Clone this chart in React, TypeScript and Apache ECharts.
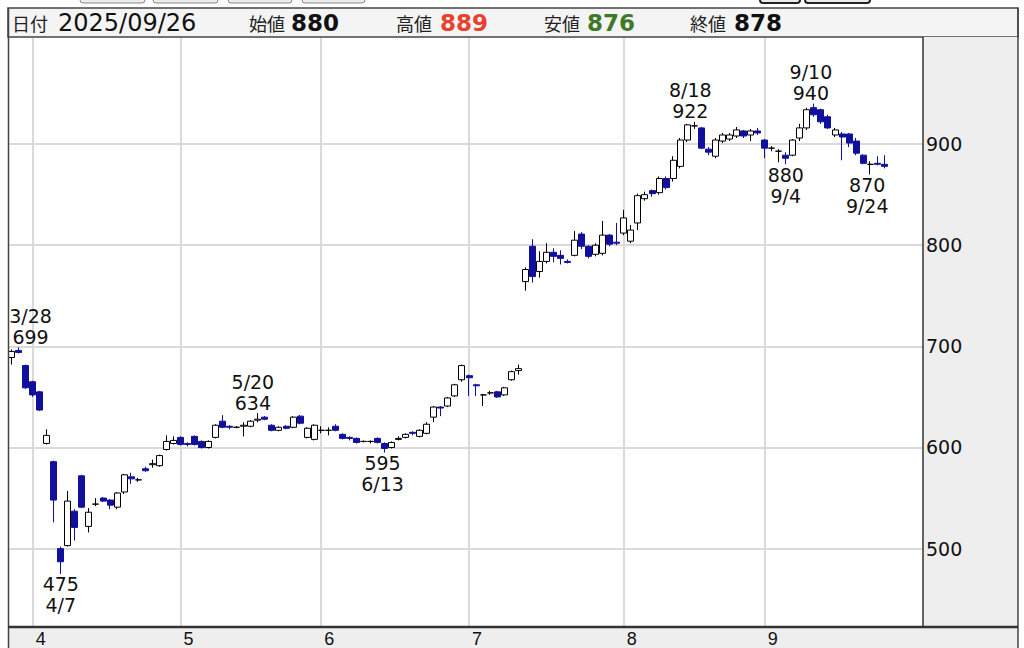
import React, { useEffect, useRef } from "react";
import * as echarts from "echarts";

type Ohlc = [number, number, number, number]; // open, high, low, close

const YEAR = 2025;
const marDays = [27, 28, 31];
const aprDays = [1, 2, 3, 4, 7, 8, 9, 10, 11, 14, 15, 16, 17, 18, 21, 22, 23, 24, 25, 28, 30];
const mayDays = [1, 2, 7, 8, 9, 12, 13, 14, 15, 16, 19, 20, 21, 22, 23, 26, 27, 28, 29, 30];
const junDays = [2, 3, 4, 5, 6, 9, 10, 11, 12, 13, 16, 17, 18, 19, 20, 23, 24, 25, 26, 27, 30];
const julDays = [1, 2, 3, 4, 7, 8, 9, 10, 11, 14, 15, 16, 17, 18, 22, 23, 24, 25, 28, 29, 30, 31];
const augDays = [1, 4, 5, 6, 7, 8, 12, 13, 14, 15, 18, 19, 20, 21, 22, 25, 26, 27, 28, 29];
const sepDays = [1, 2, 3, 4, 5, 8, 9, 10, 11, 12, 16, 17, 18, 19, 22, 24, 25, 26];
const padDates = ["2025-09-29", "2025-09-30", "2025-10-01", "2025-10-02", "2025-10-03"];

const marOhlc: Ohlc[] = [
  [689, 697, 682, 695], [696, 699, 693, 694], [681, 682, 658, 659],
];
const aprOhlc: Ohlc[] = [
  [665, 666, 650, 652], [655, 656, 636, 637], [604, 618, 603, 612], [586, 587, 526, 548],
  [500, 502, 475, 487], [503, 557, 502, 547], [537, 539, 508, 521], [572, 573, 540, 541],
  [522, 540, 516, 536], [544, 550, 542, 544], [550, 551, 546, 547], [548, 549, 539, 543],
  [541, 556, 539, 555], [556, 574, 554, 573], [571, 575, 564, 569], [568, 570, 566, 568],
  [579, 581, 576, 577], [583, 588, 580, 584], [582, 593, 581, 592], [598, 612, 597, 606],
  [604, 611, 603, 607],
];
const mayOhlc: Ohlc[] = [
  [610, 611, 602, 603], [604, 605, 601, 603], [611, 612, 602, 603], [606, 607, 599, 600],
  [600, 607, 599, 606], [610, 623, 609, 622], [626, 632, 619, 620], [621, 622, 618, 620],
  [620, 621, 619, 620], [621, 625, 611, 622], [621, 627, 620, 626], [627, 634, 625, 628],
  [630, 631, 627, 628], [622, 623, 616, 617], [617, 621, 616, 620], [621, 622, 618, 619],
  [620, 631, 619, 630], [631, 632, 623, 624], [610, 620, 609, 619], [608, 623, 607, 622],
];
const junOhlc: Ohlc[] = [
  [617, 621, 614, 617], [617, 620, 612, 617], [621, 623, 616, 617], [613, 614, 608, 609],
  [610, 611, 607, 609], [609, 610, 604, 605], [606, 607, 605, 606], [606, 607, 604, 606],
  [609, 610, 604, 605], [604, 605, 595, 599], [600, 606, 599, 605], [608, 611, 607, 609],
  [610, 614, 609, 613], [615, 616, 612, 614], [611, 618, 610, 617], [614, 625, 613, 623],
  [630, 641, 625, 640], [640, 641, 631, 639], [641, 650, 640, 649], [651, 663, 650, 662],
  [667, 682, 665, 681],
];
const julOhlc: Ohlc[] = [
  [671, 672, 651, 669], [662, 663, 651, 661], [652, 653, 641, 652], [654, 656, 652, 654],
  [655, 656, 649, 650], [652, 660, 651, 659], [667, 676, 666, 675], [676, 682, 672, 678],
  [764, 778, 755, 776], [799, 806, 763, 769], [774, 794, 768, 784], [784, 802, 782, 793],
  [793, 797, 783, 789], [790, 795, 781, 787], [784, 786, 782, 783], [790, 814, 789, 805],
  [811, 813, 796, 799], [799, 800, 787, 789], [791, 802, 789, 800], [792, 824, 790, 810],
  [810, 811, 799, 801], [803, 822, 800, 802],
];
const augOhlc: Ohlc[] = [
  [812, 835, 810, 827], [804, 820, 802, 815], [822, 851, 815, 849], [846, 853, 844, 850],
  [854, 855, 848, 851], [852, 868, 850, 866], [866, 868, 855, 857], [866, 888, 863, 884],
  [878, 906, 876, 904], [904, 920, 902, 919], [918, 922, 915, 918], [916, 917, 895, 896],
  [895, 897, 889, 892], [888, 906, 886, 904], [903, 911, 901, 909], [905, 911, 903, 909],
  [908, 917, 906, 914], [913, 914, 906, 908], [909, 915, 903, 913], [913, 916, 909, 911],
];
const sepOhlc: Ohlc[] = [
  [904, 905, 886, 896], [896, 898, 893, 896], [893, 895, 882, 893], [889, 892, 880, 886],
  [889, 905, 888, 904], [906, 920, 903, 916], [916, 936, 914, 934], [936, 940, 927, 929],
  [934, 935, 920, 922], [927, 929, 915, 916], [909, 916, 907, 914], [910, 912, 884, 907],
  [910, 911, 897, 901], [903, 906, 889, 891], [889, 890, 880, 881], [880, 883, 870, 880],
  [881, 888, 879, 880], [880, 889, 876, 878],
];

const priceTicks = [500, 600, 700, 800, 900];

const annDates = ["2025-03-28", "2025-04-07", "2025-05-20", "2025-06-13", "2025-08-18", "2025-09-04", "2025-09-10", "2025-09-24"];
const annValues = [699, 475, 634, 595, 922, 880, 940, 870];
const annKinds = ["high", "low", "high", "low", "high", "low", "high", "low"];
const annOffsets = [12, 0, -5, -2, -4, 0, -3, -3];

const monthBlocks: [number, number[], Ohlc[]][] = [
  [3, marDays, marOhlc], [4, aprDays, aprOhlc], [5, mayDays, mayOhlc], [6, junDays, junOhlc],
  [7, julDays, julOhlc], [8, augDays, augOhlc], [9, sepDays, sepOhlc],
];

const pad2 = (n: number) => (n < 10 ? "0" + n : String(n));
const tradeDates: string[] = [];
const ohlcAll: Ohlc[] = [];
const monthStarts: string[] = [];
monthBlocks.forEach(([m, days, rows], bi) => {
  days.forEach((d, i) => {
    const ds = `${YEAR}-${pad2(m)}-${pad2(d)}`;
    if (i === 0 && bi > 0) monthStarts.push(ds);
    tradeDates.push(ds);
    ohlcAll.push(rows[i]);
  });
});
const allDates = [...tradeDates, ...padDates];
const candleData = ohlcAll.map(([o, h, l, c]) => [o, c, l, h]);
const monthStartSet = new Set(monthStarts);

const BLUE = "#10109c";
const NUM_FONT = "DejaVu Sans";
const CJK_FONT = "'Noto Sans CJK JP', 'Noto Sans', sans-serif";

const shortDate = (ds: string) => `${+ds.slice(5, 7)}/${+ds.slice(8, 10)}`;

export default function App() {
  const ref = useRef<HTMLDivElement>(null);
  useEffect(() => {
    if (!ref.current) return;
    const chart = echarts.init(ref.current, null, { renderer: "svg" });
    const last = ohlcAll[ohlcAll.length - 1];
    const lastDate = tradeDates[tradeDates.length - 1].replace(/-/g, "/");

    const buttons = [
      [80, 65, "#888"], [153, 65, "#888"], [228, 64, "#888"], [302, 63, "#888"],
      [760, 40, "#222"], [805, 65, "#222"],
    ] as [number, number, string][];

    const headerItems: any[] = [
      { type: "text", x: 12, y: 23, style: { text: "日付", font: `18px ${CJK_FONT}`, fill: "#222", verticalAlign: "middle" } },
      { type: "text", x: 58, y: 23, style: { text: lastDate, font: `24px ${NUM_FONT}`, fill: "#111", verticalAlign: "middle" } },
      { type: "text", x: 249, y: 23, style: { text: "始値", font: `18px ${CJK_FONT}`, fill: "#222", verticalAlign: "middle" } },
      { type: "text", x: 291, y: 23, style: { text: String(last[0]), font: `bold 23px ${NUM_FONT}`, fill: "#111", verticalAlign: "middle" } },
      { type: "text", x: 396, y: 23, style: { text: "高値", font: `18px ${CJK_FONT}`, fill: "#222", verticalAlign: "middle" } },
      { type: "text", x: 440, y: 23, style: { text: String(last[1]), font: `bold 23px ${NUM_FONT}`, fill: "#e8402f", verticalAlign: "middle" } },
      { type: "text", x: 544, y: 23, style: { text: "安値", font: `18px ${CJK_FONT}`, fill: "#222", verticalAlign: "middle" } },
      { type: "text", x: 587, y: 23, style: { text: String(last[2]), font: `bold 23px ${NUM_FONT}`, fill: "#3d7a28", verticalAlign: "middle" } },
      { type: "text", x: 690, y: 23, style: { text: "終値", font: `18px ${CJK_FONT}`, fill: "#222", verticalAlign: "middle" } },
      { type: "text", x: 734, y: 23, style: { text: String(last[3]), font: `bold 23px ${NUM_FONT}`, fill: "#111", verticalAlign: "middle" } },
    ];

    const option: any = {
      animation: false,
      grid: { left: 8, top: 38, width: 915, height: 589, containLabel: false },
      xAxis: {
        type: "category",
        data: allDates,
        boundaryGap: true,
        axisLine: { show: false },
        axisTick: { show: false },
        splitLine: { show: false },
        axisLabel: {
          interval: (_i: number, v: string) => monthStartSet.has(v),
          formatter: (v: string) => String(+v.slice(5, 7)),
          align: "left",
          padding: [0, 0, 0, 3],
          margin: 4,
          fontSize: 18,
          color: "#111",
          fontFamily: "'Liberation Sans Narrow', 'Liberation Sans', sans-serif",
        },
      },
      yAxis: {
        type: "value",
        position: "right",
        min: 423.5,
        max: 1004.9,
        splitNumber: 6,
        axisLine: { show: false },
        axisTick: { show: false },
        splitLine: { show: false },
        axisLabel: {
          showMinLabel: false,
          showMaxLabel: false,
          formatter: (v: number) => (priceTicks.indexOf(v) >= 0 ? String(v) : ""),
          margin: 3,
          fontSize: 19,
          color: "#111",
          fontFamily: NUM_FONT,
        },
      },
      graphic: {
        elements: [
          ...buttons.map(([x, w, c]) => ({
            type: "rect", z: -1,
            shape: { x, y: -8, width: w, height: 11, r: 3 },
            style: { fill: "#ececec", stroke: c, lineWidth: c === "#222" ? 2 : 1 },
          })),
          { type: "rect", z: -1, shape: { x: 8, y: 8, width: 1010, height: 29 }, style: { fill: "#f4f4f4", stroke: "#444", lineWidth: 1.5 } },
          { type: "rect", z: -1, shape: { x: 923, y: 37, width: 95, height: 590 }, style: { fill: "#eeeeee" } },
          { type: "rect", z: -1, shape: { x: 8, y: 627, width: 1010, height: 25 }, style: { fill: "#eeeeee" } },
          { type: "line", z: 50, shape: { x1: 8.5, y1: 8, x2: 8.5, y2: 648 }, style: { stroke: "#444", lineWidth: 1.5 } },
          { type: "line", z: 50, shape: { x1: 1018, y1: 8, x2: 1018, y2: 648 }, style: { stroke: "#444", lineWidth: 1.5 } },
          { type: "line", z: 50, shape: { x1: 923, y1: 37, x2: 923, y2: 627 }, style: { stroke: "#333", lineWidth: 1.5 } },
          { type: "line", z: 50, shape: { x1: 8, y1: 627, x2: 1018, y2: 627 }, style: { stroke: "#333", lineWidth: 2.5 } },
          ...headerItems.map((t) => ({ ...t, z: 60 })),
        ],
      },
      series: [
        {
          type: "candlestick",
          data: candleData,
          barWidth: 6.5,
          z: 3,
          itemStyle: {
            color: "#ffffff",
            color0: BLUE,
            borderColor: "#000000",
            borderColor0: BLUE,
            borderColorDoji: "#000000",
            borderWidth: 1,
          },
          markLine: {
            silent: true,
            z: 1,
            symbol: ["none", "none"],
            animation: false,
            label: { show: false },
            emphasis: { disabled: true },
            lineStyle: { color: "#dadada", width: 2, type: "solid" },
            data: [
              ...monthStarts.map((d) => ({ xAxis: d })),
              ...priceTicks.map((p) => ({ yAxis: p })),
            ],
          },
          markPoint: {
            silent: true,
            z: 10,
            symbol: "circle",
            symbolSize: 0,
            animation: false,
            itemStyle: { color: "rgba(0,0,0,0)" },
            label: { show: true, color: "#111", fontFamily: NUM_FONT, fontSize: 19, lineHeight: 21 },
            data: annDates.map((d, i) => ({
              coord: [d, annValues[i]],
              value: annValues[i],
              label: {
                position: annKinds[i] === "high" ? "top" : "bottom",
                distance: 0,
                offset: [annOffsets[i], 0],
                formatter: annKinds[i] === "high"
                  ? `${shortDate(d)}\n${annValues[i]}`
                  : `${annValues[i]}\n${shortDate(d)}`,
              },
            })),
          },
        },
      ],
    };
    chart.setOption(option);
    return () => chart.dispose();
  }, []);
  return (
    <div
      ref={ref}
      style={{ position: "absolute", left: 0, top: 0, width: 1024, height: 648, background: "#ffffff" }}
    />
  );
}
